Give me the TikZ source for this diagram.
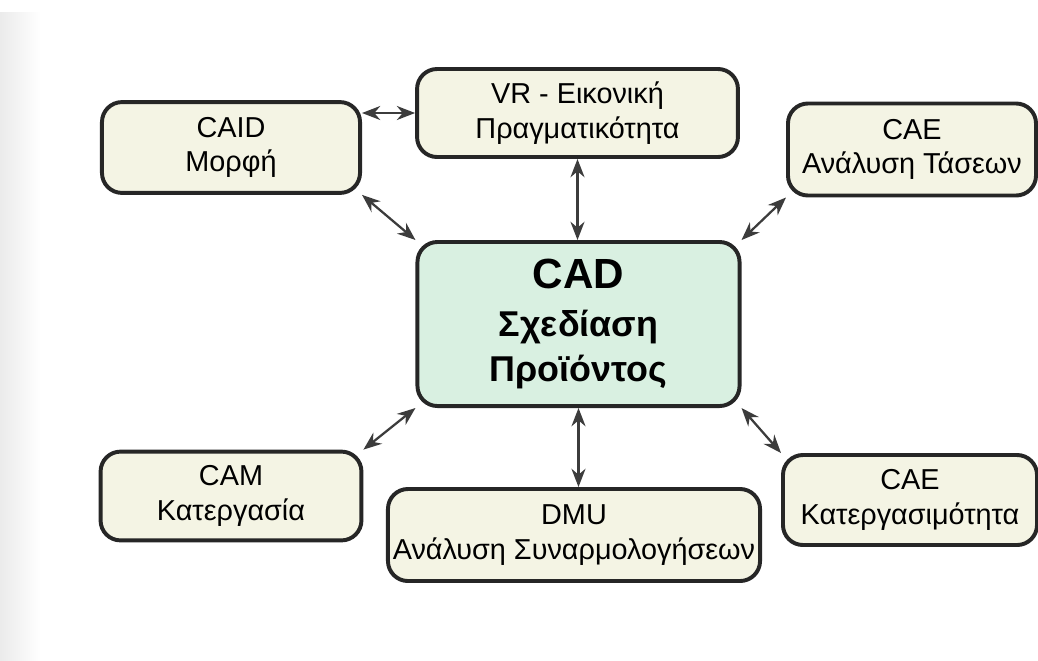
\documentclass[tikz,border=0pt]{standalone}
\usepackage{fontspec}
\setmainfont{Liberation Sans}
\usetikzlibrary{arrows.meta}
\definecolor{boxfill}{HTML}{F4F4E4}
\definecolor{corefill}{HTML}{D9F0E1}
\definecolor{edge}{HTML}{262626}
\definecolor{linkcol}{HTML}{3C3C3C}
\begin{document}
\begin{tikzpicture}[x=0.025cm,y=-0.025cm,
    box/.style={draw=edge,line width=2.8pt,rounded corners=0.5cm,fill=boxfill,
      align=center,inner sep=0pt,font=\fontsize{20.5}{24.5}\selectfont},
    core/.style={box,fill=corefill,font=\bfseries\fontsize{25.5}{32}\selectfont},
    link/.style={draw=linkcol,line width=1.6pt,
      {Stealth[length=13pt,width=10pt]}-{Stealth[length=13pt,width=10pt]}}]
  \useasboundingbox (0,0) rectangle (1038,660);
  % faint scan edge on the left
  \shade[left color=black!8,right color=white] (0,12) rectangle (40,660);
  \node[core,minimum width=8.05cm,minimum height=4.1cm] (cad) at (578.5,324)
    {{\fontsize{30}{34}\selectfont CAD}\\[2pt]Σχεδίαση\\Προϊόντος};
  \node[box,minimum width=6.45cm,minimum height=2.27cm] (caid) at (231,147.5) {CAID\\Μορφή};
  \node[box,minimum width=8.02cm,minimum height=2.2cm] (vr) at (577.5,113) {VR - Εικονική\\Πραγματικότητα};
  \node[box,minimum width=6.2cm,minimum height=2.3cm] (caet) at (912,149.5) {CAE\\Ανάλυση Τάσεων};
  \node[box,minimum width=6.52cm,minimum height=2.22cm] (cam) at (231,496) {CAM\\Κατεργασία};
  \node[box,minimum width=9.3cm,minimum height=2.3cm] (dmu) at (574,535) {DMU\\Ανάλυση Συναρμολογήσεων};
  \node[box,minimum width=6.35cm,minimum height=2.25cm] (caeb) at (910,500) {CAE\\Κατεργασιμότητα};
  \draw[link] (caid.east |- vr.west) -- (vr.west);
  \draw[link] (caid.south east) -- (cad.north west);
  \draw[link] (vr.south) -- (vr.south |- cad.north);
  \draw[link] (caet.south west) -- (cad.north east);
  \draw[link] (cad.south west) -- (cam.north east);
  \draw[link] (cad.south) -- (cad.south |- dmu.north);
  \draw[link] (cad.south east) -- (caeb.north west);
\end{tikzpicture}
\end{document}
